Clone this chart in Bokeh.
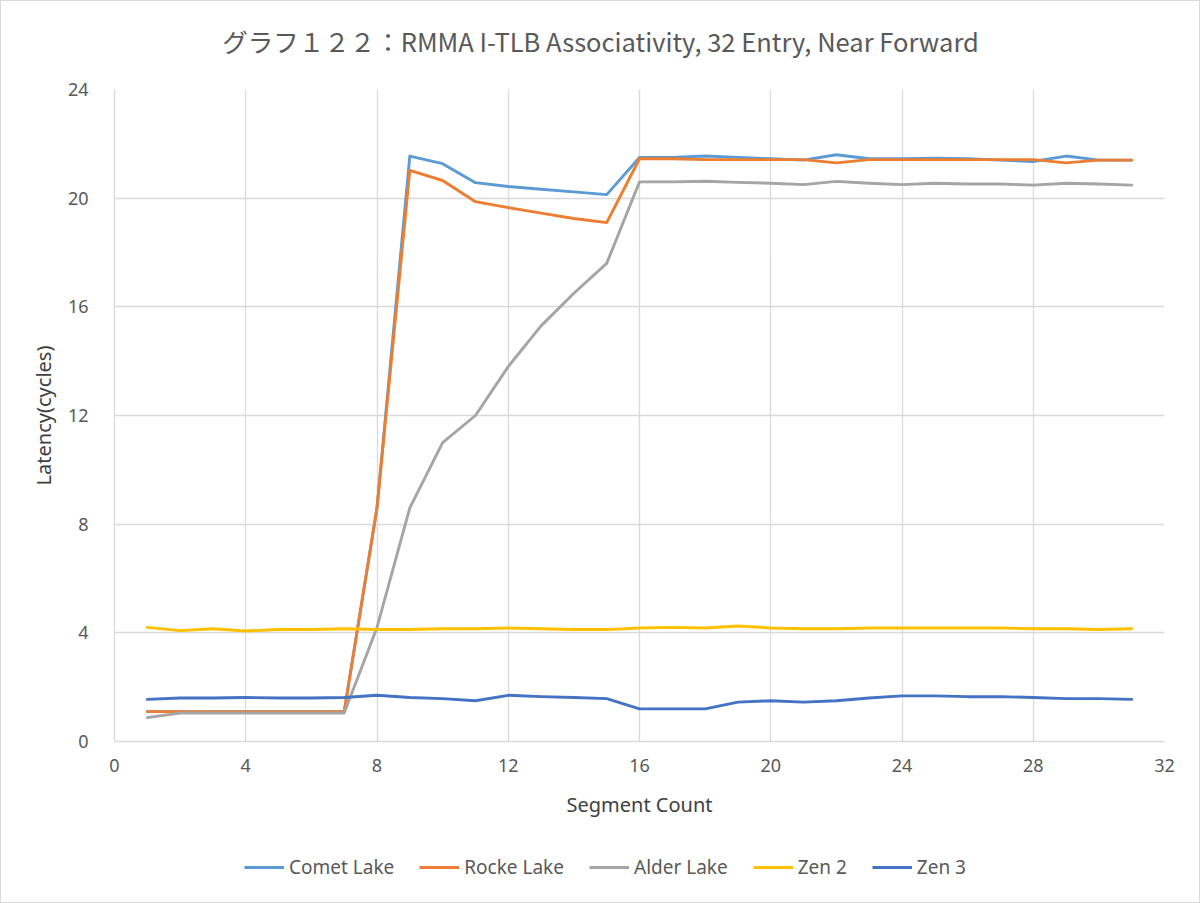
from bokeh.plotting import figure
from bokeh.layouts import column
from bokeh.models import Legend, LegendItem, FixedTicker, Range1d, Label
from bokeh.embed import file_html
from bokeh.resources import INLINE

segments = list(range(1, 32))
comet_lake = [1.1, 1.1, 1.1, 1.1, 1.1, 1.1, 1.1, 8.6, 21.55, 21.27, 20.57, 20.43, 20.33, 20.23, 20.13,
              21.5, 21.5, 21.55, 21.5, 21.45, 21.4, 21.6, 21.45, 21.45, 21.47, 21.45, 21.4, 21.35, 21.55, 21.4, 21.4]
rocke_lake = [1.1, 1.1, 1.1, 1.1, 1.1, 1.1, 1.1, 8.6, 21.02, 20.65, 19.87, 19.65, 19.45, 19.25, 19.1,
              21.45, 21.45, 21.42, 21.42, 21.42, 21.42, 21.3, 21.42, 21.42, 21.42, 21.42, 21.42, 21.42, 21.3, 21.4, 21.4]
alder_lake = [0.88, 1.05, 1.05, 1.05, 1.05, 1.05, 1.05, 4.2, 8.6, 11.0, 12.0, 13.8, 15.3, 16.5, 17.6,
              20.6, 20.6, 20.62, 20.58, 20.55, 20.5, 20.62, 20.55, 20.5, 20.55, 20.52, 20.52, 20.48, 20.55, 20.52, 20.48]
zen_2 = [4.2, 4.08, 4.15, 4.07, 4.12, 4.12, 4.15, 4.12, 4.12, 4.15, 4.15, 4.18, 4.15, 4.12, 4.12,
         4.18, 4.2, 4.18, 4.25, 4.18, 4.15, 4.15, 4.18, 4.18, 4.18, 4.18, 4.18, 4.15, 4.15, 4.12, 4.15]
zen_3 = [1.55, 1.6, 1.6, 1.62, 1.6, 1.6, 1.62, 1.7, 1.62, 1.58, 1.5, 1.7, 1.65, 1.62, 1.58,
         1.2, 1.2, 1.2, 1.45, 1.5, 1.45, 1.5, 1.6, 1.68, 1.68, 1.65, 1.65, 1.62, 1.58, 1.58, 1.55]

series_names = ["Comet Lake", "Rocke Lake", "Alder Lake", "Zen 2", "Zen 3"]
series_values = [comet_lake, rocke_lake, alder_lake, zen_2, zen_3]
colors = ["#5B9BD5", "#ED7D31", "#A5A5A5", "#FFC000", "#4472C4"]

x_ticks = list(range(0, 33, 4))
y_ticks = list(range(0, 25, 4))

title_text = "グラフ１２２：RMMA I-TLB Associativity, 32 Entry, Near Forward"


def strip(height):
    f = figure(width=1198, height=height, output_backend="svg", toolbar_location=None,
               x_range=Range1d(0, 1050), y_range=Range1d(0, height),
               min_border_left=0, min_border_right=0, min_border_top=0, min_border_bottom=0)
    f.axis.visible = False
    f.grid.visible = False
    f.outline_line_color = None
    f.background_fill_color = "white"
    f.border_fill_color = "white"
    return f


# title strip
tt = strip(68)
tt.add_layout(Label(x=486, y=29, text=title_text, text_align="center", text_baseline="middle",
                    text_font="Noto Sans CJK JP", text_font_size="25.5px", text_color="#595959"))

# main chart
p = figure(width=1198, height=758, output_backend="svg", toolbar_location=None,
           x_range=Range1d(0, 32), y_range=Range1d(0, 24),
           min_border_left=113, min_border_right=35, min_border_top=20, min_border_bottom=86)
p.outline_line_color = None
p.background_fill_color = "white"
p.border_fill_color = "white"

for ax in (p.xaxis[0], p.yaxis[0]):
    ax.axis_line_color = "#D9D9D9"
    ax.axis_line_width = 1.3
    ax.major_tick_line_color = None
    ax.minor_tick_line_color = None
    ax.major_label_text_font = "Noto Sans"
    ax.major_label_text_font_size = "18px"
    ax.major_label_text_color = "#595959"
    ax.axis_label_text_font = "Noto Sans"
    ax.axis_label_text_font_size = "20px"
    ax.axis_label_text_font_style = "normal"
    ax.axis_label_text_color = "#404040"

p.xaxis.ticker = FixedTicker(ticks=x_ticks)
p.yaxis.ticker = FixedTicker(ticks=y_ticks)
p.xaxis.axis_label = "Segment Count"
p.yaxis.axis_label = "Latency(cycles)"
p.xaxis.major_label_standoff = 11
p.yaxis.major_label_standoff = 20
p.xaxis.axis_label_standoff = 16
p.yaxis.axis_label_standoff = 8

p.xgrid.ticker = FixedTicker(ticks=x_ticks)
p.ygrid.ticker = FixedTicker(ticks=y_ticks)
p.xgrid.grid_line_color = "#D9D9D9"
p.ygrid.grid_line_color = "#D9D9D9"
p.xgrid.grid_line_width = 1.3
p.ygrid.grid_line_width = 1.3

for name, vals, col in zip(series_names, series_values, colors):
    p.line(segments, vals, line_color=col, line_width=2.9, line_join="round", line_cap="round")

# legend strip
lg = strip(75)
items = []
for name, vals, col in zip(series_names, series_values, colors):
    r = lg.line(segments, vals, line_color=col, line_width=2.9, visible=False)
    items.append(LegendItem(label=name, renderers=[r]))

legend = Legend(items=items, orientation="horizontal", location=(130, 22),
                label_text_font="Noto Sans", label_text_font_size="19px", label_text_color="#595959",
                glyph_width=40, spacing=25, label_standoff=5, border_line_color=None,
                background_fill_alpha=0, padding=0, margin=0, inactive_fill_alpha=0)
lg.add_layout(legend, "center")

layout = column(tt, p, lg, spacing=0, styles={"border": "1px solid #D9D9D9"})

open("out.html", "w").write(file_html(layout, INLINE))
